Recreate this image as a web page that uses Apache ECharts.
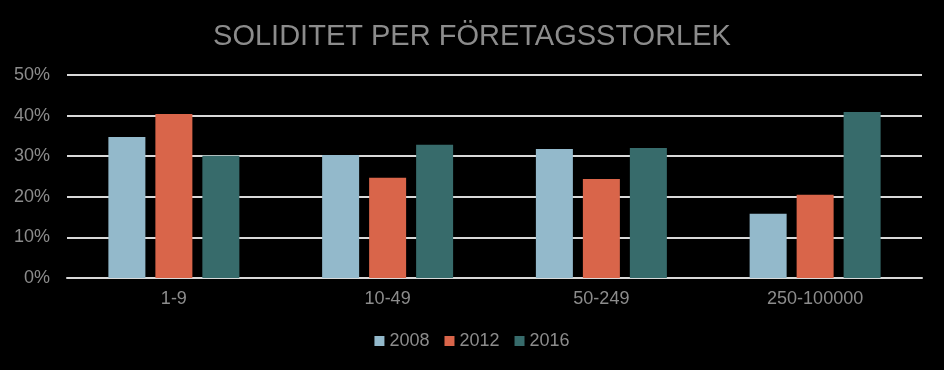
<!DOCTYPE html>
<html><head><meta charset="utf-8">
<script src="https://cdn.jsdelivr.net/npm/echarts@6/dist/echarts.min.js"></script>
<style>html,body{margin:0;padding:0;background:#000;}#c{width:944px;height:370px;}</style>
</head><body><div id="c"></div>
<script>
const categories = ['1-9', '10-49', '50-249', '250-100000'];
const seriesNames = ['2008', '2012', '2016'];
const values2008 = [34.7, 30.3, 31.8, 15.8];
const values2012 = [40.4, 24.7, 24.4, 20.5];
const values2016 = [30.1, 32.8, 32.0, 40.9];
const colors = ['#93b9cb', '#d9654a', '#376b6b'];
const allValues = [values2008, values2012, values2016];

const chart = echarts.init(document.getElementById('c'));
chart.setOption({
  backgroundColor: '#000',
  title: {
    text: 'SOLIDITET PER FÖRETAGSSTORLEK', left: 'center', top: 17,
    textStyle: { color: '#8c8c8c', fontSize: 29, fontWeight: 'normal', fontFamily: 'Liberation Sans' }
  },
  legend: {
    bottom: 15, left: 'center', itemWidth: 10, itemHeight: 10, itemGap: 15,
    icon: 'rect',
    textStyle: { color: '#8c8c8c', fontSize: 18, fontFamily: 'Liberation Sans' },
    data: seriesNames
  },
  grid: { left: 67, right: 22, top: 75, bottom: 92, containLabel: false },
  xAxis: {
    type: 'category', data: categories,
    axisLine: { show: true, lineStyle: { color: '#d9d9d9', width: 2 } },
    axisTick: { show: false },
    axisLabel: { color: '#8c8c8c', fontSize: 18, margin: 12, fontFamily: 'Liberation Sans' }
  },
  yAxis: {
    type: 'value', min: 0, max: 50, interval: 10,
    axisLine: { show: false }, axisTick: { show: false },
    axisLabel: { color: '#8c8c8c', fontSize: 18, margin: 17, formatter: '{value}%', fontFamily: 'Liberation Sans' },
    splitLine: { lineStyle: { color: '#d9d9d9', width: 2 } }
  },
  series: seriesNames.map((n, i) => ({
    name: n, type: 'bar', data: allValues[i], barWidth: 37, barGap: '27%',
    itemStyle: { color: colors[i] }
  }))
});
</script></body></html>
